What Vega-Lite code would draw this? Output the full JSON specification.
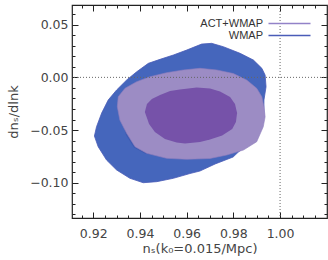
{
"$schema": "https://vega.github.io/schema/vega-lite/v6.json",
"width": 255, "height": 213, "autosize": "none",
"padding": {"left": 72, "top": 5, "right": 1, "bottom": 42},
"config": {"view": {"stroke": "#222", "strokeWidth": 1.2}, "font": "DejaVu Sans",
  "axis": {"grid": false, "domain": false, "labels": false, "title": null, "tickColor": "#222", "tickWidth": 1}},
"datasets": {
"c": [
{"r":"W95","set":"WMAP","i":0,"x":0.9205,"y":-0.0557},{"r":"W95","set":"WMAP","i":1,"x":0.9214,"y":-0.0469},{"r":"W95","set":"WMAP","i":2,"x":0.9236,"y":-0.0339},{"r":"W95","set":"WMAP","i":3,"x":0.9264,"y":-0.0215},{"r":"W95","set":"WMAP","i":4,"x":0.93,"y":-0.012},{"r":"W95","set":"WMAP","i":5,"x":0.9343,"y":-0.0025},{"r":"W95","set":"WMAP","i":6,"x":0.9386,"y":0.0053},{"r":"W95","set":"WMAP","i":7,"x":0.9436,"y":0.0133},{"r":"W95","set":"WMAP","i":8,"x":0.9486,"y":0.0171},{"r":"W95","set":"WMAP","i":9,"x":0.9543,"y":0.0212},{"r":"W95","set":"WMAP","i":10,"x":0.96,"y":0.0259},{"r":"W95","set":"WMAP","i":11,"x":0.9664,"y":0.0316},{"r":"W95","set":"WMAP","i":12,"x":0.9707,"y":0.0323},{"r":"W95","set":"WMAP","i":13,"x":0.9757,"y":0.0291},{"r":"W95","set":"WMAP","i":14,"x":0.9829,"y":0.0228},{"r":"W95","set":"WMAP","i":15,"x":0.9886,"y":0.0164},{"r":"W95","set":"WMAP","i":16,"x":0.9922,"y":0.0086},{"r":"W95","set":"WMAP","i":17,"x":0.9936,"y":0.0022},{"r":"W95","set":"WMAP","i":18,"x":0.994,"y":-0.0089},{"r":"W95","set":"WMAP","i":19,"x":0.9931,"y":-0.0215},{"r":"W95","set":"WMAP","i":20,"x":0.9931,"y":-0.0341},{"r":"W95","set":"WMAP","i":21,"x":0.9925,"y":-0.0436},{"r":"W95","set":"WMAP","i":22,"x":0.9893,"y":-0.0556},{"r":"W95","set":"WMAP","i":23,"x":0.9855,"y":-0.065},{"r":"W95","set":"WMAP","i":24,"x":0.982,"y":-0.0712},{"r":"W95","set":"WMAP","i":25,"x":0.9799,"y":-0.0756},{"r":"W95","set":"WMAP","i":26,"x":0.9722,"y":-0.0822},{"r":"W95","set":"WMAP","i":27,"x":0.9657,"y":-0.0889},{"r":"W95","set":"WMAP","i":28,"x":0.9614,"y":-0.0913},{"r":"W95","set":"WMAP","i":29,"x":0.9543,"y":-0.0958},{"r":"W95","set":"WMAP","i":30,"x":0.9472,"y":-0.099},{"r":"W95","set":"WMAP","i":31,"x":0.9414,"y":-0.1},{"r":"W95","set":"WMAP","i":32,"x":0.9357,"y":-0.0958},{"r":"W95","set":"WMAP","i":33,"x":0.93,"y":-0.0879},{"r":"W95","set":"WMAP","i":34,"x":0.9257,"y":-0.0785},{"r":"W95","set":"WMAP","i":35,"x":0.9221,"y":-0.0658},
{"r":"W68","i":0,"x":0.9336,"y":-0.0263},{"r":"W68","i":1,"x":0.9379,"y":-0.012},{"r":"W68","i":2,"x":0.9464,"y":-0.0025},{"r":"W68","i":3,"x":0.9593,"y":0.0032},{"r":"W68","i":4,"x":0.9722,"y":0.0032},{"r":"W68","i":5,"x":0.9829,"y":-0.0044},{"r":"W68","i":6,"x":0.988,"y":-0.0187},{"r":"W68","i":7,"x":0.988,"y":-0.0357},{"r":"W68","i":8,"x":0.985,"y":-0.0519},{"r":"W68","i":9,"x":0.9786,"y":-0.0623},{"r":"W68","i":10,"x":0.9679,"y":-0.069},{"r":"W68","i":11,"x":0.9571,"y":-0.0737},{"r":"W68","i":12,"x":0.9486,"y":-0.0747},{"r":"W68","i":13,"x":0.9421,"y":-0.0723},{"r":"W68","i":14,"x":0.9374,"y":-0.0666},{"r":"W68","i":15,"x":0.934,"y":-0.0547},{"r":"W68","i":16,"x":0.9323,"y":-0.0405},
{"r":"A95","i":0,"x":0.9307,"y":-0.0184},{"r":"A95","i":1,"x":0.9303,"y":-0.0279},{"r":"A95","i":2,"x":0.9314,"y":-0.0405},{"r":"A95","i":3,"x":0.9343,"y":-0.0531},{"r":"A95","i":4,"x":0.9379,"y":-0.0658},{"r":"A95","i":5,"x":0.9429,"y":-0.0721},{"r":"A95","i":6,"x":0.9514,"y":-0.0768},{"r":"A95","i":7,"x":0.96,"y":-0.0778},{"r":"A95","i":8,"x":0.97,"y":-0.077},{"r":"A95","i":9,"x":0.9772,"y":-0.0737},{"r":"A95","i":10,"x":0.9843,"y":-0.069},{"r":"A95","i":11,"x":0.99,"y":-0.0611},{"r":"A95","i":12,"x":0.9928,"y":-0.0469},{"r":"A95","i":13,"x":0.9936,"y":-0.0374},{"r":"A95","i":14,"x":0.9931,"y":-0.0279},{"r":"A95","i":15,"x":0.9922,"y":-0.0184},{"r":"A95","i":16,"x":0.99,"y":-0.0104},{"r":"A95","i":17,"x":0.9857,"y":-0.0025},{"r":"A95","i":18,"x":0.98,"y":0.0036},{"r":"A95","i":19,"x":0.9729,"y":0.007},{"r":"A95","i":20,"x":0.9657,"y":0.0086},{"r":"A95","i":21,"x":0.9586,"y":0.007},{"r":"A95","i":22,"x":0.9514,"y":0.0044},{"r":"A95","i":23,"x":0.9443,"y":0.0006},{"r":"A95","i":24,"x":0.9386,"y":-0.0041},{"r":"A95","i":25,"x":0.9336,"y":-0.0104},
{"r":"A68","i":0,"x":0.9421,"y":-0.0329},{"r":"A68","i":1,"x":0.943,"y":-0.0253},{"r":"A68","i":2,"x":0.9451,"y":-0.0206},{"r":"A68","i":3,"x":0.9486,"y":-0.0168},{"r":"A68","i":4,"x":0.9529,"y":-0.013},{"r":"A68","i":5,"x":0.9571,"y":-0.0115},{"r":"A68","i":6,"x":0.9643,"y":-0.0095},{"r":"A68","i":7,"x":0.97,"y":-0.0106},{"r":"A68","i":8,"x":0.9743,"y":-0.0134},{"r":"A68","i":9,"x":0.9786,"y":-0.0187},{"r":"A68","i":10,"x":0.9807,"y":-0.0253},{"r":"A68","i":11,"x":0.9816,"y":-0.0339},{"r":"A68","i":12,"x":0.9811,"y":-0.0424},{"r":"A68","i":13,"x":0.9795,"y":-0.049},{"r":"A68","i":14,"x":0.9752,"y":-0.0552},{"r":"A68","i":15,"x":0.97,"y":-0.059},{"r":"A68","i":16,"x":0.9657,"y":-0.0614},{"r":"A68","i":17,"x":0.9593,"y":-0.0628},{"r":"A68","i":18,"x":0.9557,"y":-0.0618},{"r":"A68","i":19,"x":0.9507,"y":-0.0585},{"r":"A68","i":20,"x":0.9464,"y":-0.0519},{"r":"A68","i":21,"x":0.9439,"y":-0.0443}
],
"vx": [{"x": 1.0}],
"hy": [{"y": 0.0}]
},
"layer": [
{"data": {"name": "c"}, "transform": [{"filter": "datum.r == 'W95'"}],
 "mark": {"type": "line", "interpolate": "linear-closed", "fill": "#4566BC", "strokeWidth": 0.8},
 "encoding": {
  "x": {"field": "x", "type": "quantitative", "scale": {"domain": [0.9109, 1.0201], "nice": false, "zero": false},
        "axis": {"orient": "bottom", "values": [0.92, 0.94, 0.96, 0.98, 1.0], "format": ".2f", "ticks": false, "labels": true, "labelPadding": 9, "labelFontSize": 12.5, "labelColor": "#444", "title": "nₛ(k₀=0.015/Mpc)", "titleFontSize": 13, "titleFontWeight": "normal", "titleColor": "#444", "titlePadding": 3}},
  "y": {"field": "y", "type": "quantitative", "scale": {"domain": [-0.1335, 0.0687], "nice": false, "zero": false},
        "axis": {"orient": "left", "values": [-0.1, -0.05, 0, 0.05], "format": ".2f", "ticks": false, "labels": true, "labelPadding": 4, "labelFontSize": 12.5, "labelColor": "#444", "title": "dnₛ/dlnk", "titleFontSize": 13, "titleFontWeight": "normal", "titleColor": "#444", "titlePadding": 9}},
  "order": {"field": "i", "type": "quantitative"},
  "stroke": {"field": "set", "type": "nominal", "scale": {"domain": ["ACT+WMAP", "WMAP"], "range": ["#9282C8", "#4A5CB8"]},
        "legend": {"orient": "none", "legendX": 212, "legendY": 13, "title": null, "symbolType": "M-5,0H5", "symbolSize": 70.6, "symbolStrokeWidth": 1.3, "labelAlign": "right", "labelOffset": -32, "symbolOffset": 0, "rowPadding": 0, "labelFontSize": 11, "labelFont": "Liberation Sans", "labelColor": "#333"}}
 }},
{"data": {"name": "c"}, "transform": [{"filter": "datum.r == 'W68'"}],
 "mark": {"type": "line", "interpolate": "linear-closed", "fill": "#3E5BB2", "strokeWidth": 0},
 "encoding": {
  "x": {"field": "x", "type": "quantitative", "axis": {"orient": "bottom", "values": [0.92, 0.94, 0.96, 0.98, 1.0], "tickSize": -6}},
  "y": {"field": "y", "type": "quantitative", "axis": {"orient": "left", "values": [-0.1, -0.05, 0, 0.05], "tickSize": -6}},
  "order": {"field": "i", "type": "quantitative"}
 }},
{"data": {"name": "c"}, "transform": [{"filter": "datum.r == 'A95'"}],
 "mark": {"type": "line", "interpolate": "linear-closed", "fill": "#9C8CC4", "stroke": "#8E7EBE", "strokeWidth": 0.6},
 "encoding": {
  "x": {"field": "x", "type": "quantitative", "axis": {"orient": "bottom", "values": [0.915, 0.925, 0.93, 0.935, 0.945, 0.95, 0.955, 0.965, 0.97, 0.975, 0.985, 0.99, 0.995, 1.005, 1.01, 1.015], "tickSize": -3}},
  "y": {"field": "y", "type": "quantitative", "axis": {"orient": "left", "values": [-0.13, -0.12, -0.11, -0.09, -0.08, -0.07, -0.06, -0.04, -0.03, -0.02, -0.01, 0.01, 0.02, 0.03, 0.04, 0.06], "tickSize": -3}},
  "order": {"field": "i", "type": "quantitative"}
 }},
{"data": {"name": "c"}, "transform": [{"filter": "datum.r == 'A68'"}],
 "mark": {"type": "line", "interpolate": "linear-closed", "fill": "#7652A9", "strokeWidth": 0},
 "encoding": {
  "x": {"field": "x", "type": "quantitative", "axis": {"orient": "top", "values": [0.92, 0.94, 0.96, 0.98, 1.0], "tickSize": -6}},
  "y": {"field": "y", "type": "quantitative", "axis": {"orient": "right", "values": [-0.1, -0.05, 0, 0.05], "tickSize": -6}},
  "order": {"field": "i", "type": "quantitative"}
 }},
{"data": {"name": "vx"},
 "mark": {"type": "rule", "color": "#666", "strokeDash": [1, 2], "strokeWidth": 1},
 "encoding": {"x": {"field": "x", "type": "quantitative", "axis": {"orient": "top", "values": [0.915, 0.925, 0.93, 0.935, 0.945, 0.95, 0.955, 0.965, 0.97, 0.975, 0.985, 0.99, 0.995, 1.005, 1.01, 1.015], "tickSize": -3}}}},
{"data": {"name": "hy"},
 "mark": {"type": "rule", "color": "#666", "strokeDash": [1, 2], "strokeWidth": 1},
 "encoding": {"y": {"field": "y", "type": "quantitative", "axis": {"orient": "right", "values": [-0.13, -0.12, -0.11, -0.09, -0.08, -0.07, -0.06, -0.04, -0.03, -0.02, -0.01, 0.01, 0.02, 0.03, 0.04, 0.06], "tickSize": -3}}}}
],
"resolve": {"axis": {"x": "independent", "y": "independent"}}
}
